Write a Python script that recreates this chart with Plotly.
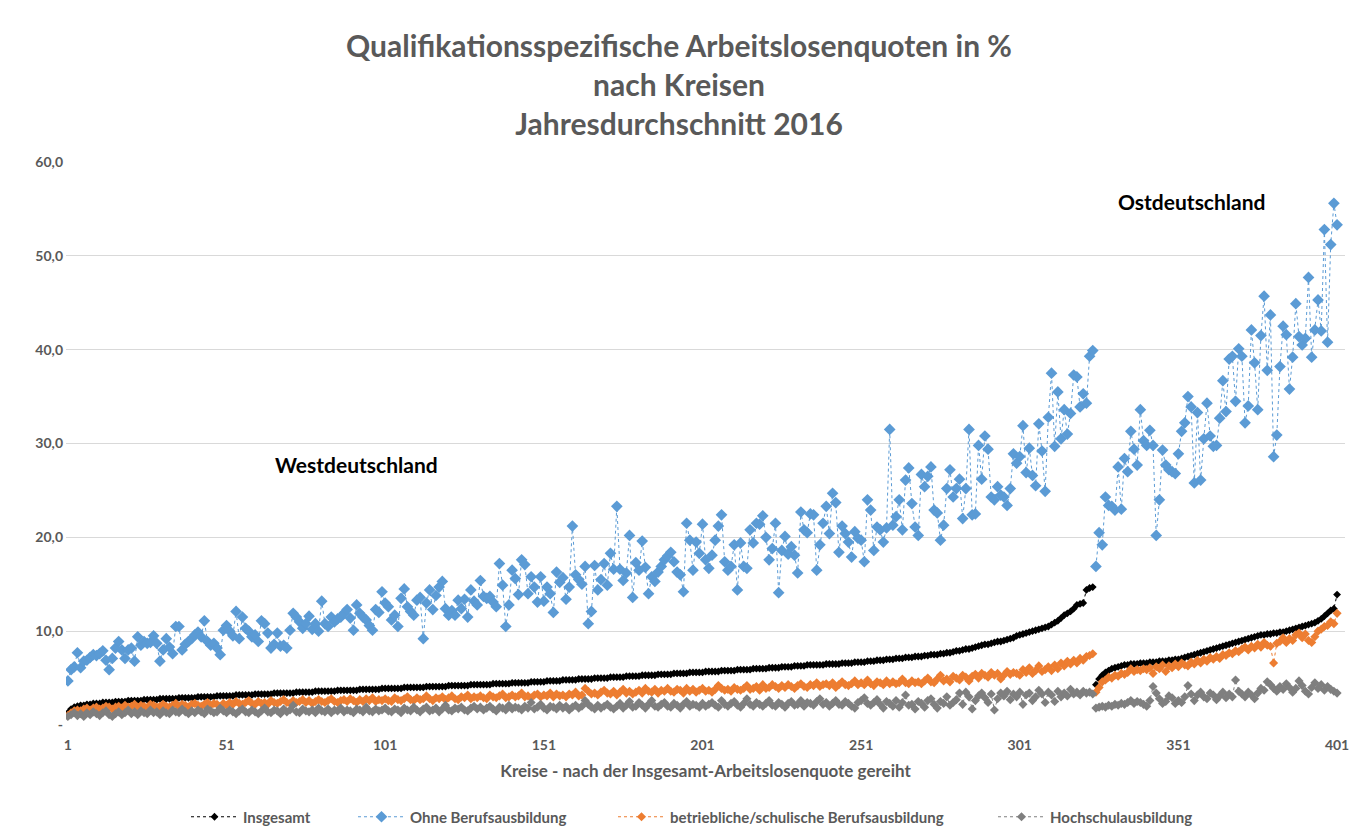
import plotly.graph_objects as go

# ---------------- data ----------------
kreis_rang = list(range(1, 402))          # Kreise 1..401 (West 1..324, Ost 325..401)
n_west = 324

insgesamt = [
    1.3, 1.7, 1.9, 2.0, 2.1, 2.1, 2.2, 2.2, 2.3, 2.3,
    2.3, 2.4, 2.4, 2.4, 2.4, 2.5, 2.5, 2.5, 2.5, 2.6,
    2.6, 2.6, 2.6, 2.6, 2.7, 2.7, 2.7, 2.7, 2.7, 2.8,
    2.8, 2.8, 2.8, 2.8, 2.8, 2.9, 2.9, 2.9, 2.9, 2.9,
    2.9, 3.0, 3.0, 3.0, 3.0, 3.0, 3.0, 3.1, 3.1, 3.1,
    3.1, 3.1, 3.1, 3.2, 3.2, 3.2, 3.2, 3.2, 3.2, 3.3,
    3.3, 3.3, 3.3, 3.3, 3.3, 3.4, 3.4, 3.4, 3.4, 3.4,
    3.4, 3.4, 3.5, 3.5, 3.5, 3.5, 3.5, 3.5, 3.6, 3.6,
    3.6, 3.6, 3.6, 3.6, 3.6, 3.7, 3.7, 3.7, 3.7, 3.7,
    3.7, 3.7, 3.8, 3.8, 3.8, 3.8, 3.8, 3.8, 3.8, 3.9,
    3.9, 3.9, 3.9, 3.9, 3.9, 3.9, 4.0, 4.0, 4.0, 4.0,
    4.0, 4.0, 4.0, 4.1, 4.1, 4.1, 4.1, 4.1, 4.1, 4.1,
    4.2, 4.2, 4.2, 4.2, 4.2, 4.2, 4.2, 4.3, 4.3, 4.3,
    4.3, 4.3, 4.3, 4.3, 4.4, 4.4, 4.4, 4.4, 4.4, 4.4,
    4.5, 4.5, 4.5, 4.5, 4.5, 4.5, 4.6, 4.6, 4.6, 4.6,
    4.6, 4.7, 4.7, 4.7, 4.7, 4.7, 4.8, 4.8, 4.8, 4.8,
    4.8, 4.9, 4.9, 4.9, 4.9, 4.9, 5.0, 5.0, 5.0, 5.0,
    5.0, 5.1, 5.1, 5.1, 5.1, 5.1, 5.2, 5.2, 5.2, 5.2,
    5.2, 5.3, 5.3, 5.3, 5.3, 5.3, 5.4, 5.4, 5.4, 5.4,
    5.4, 5.5, 5.5, 5.5, 5.5, 5.5, 5.6, 5.6, 5.6, 5.6,
    5.6, 5.7, 5.7, 5.7, 5.7, 5.7, 5.8, 5.8, 5.8, 5.8,
    5.8, 5.9, 5.9, 5.9, 5.9, 5.9, 6.0, 6.0, 6.0, 6.0,
    6.0, 6.1, 6.1, 6.1, 6.1, 6.2, 6.2, 6.2, 6.2, 6.3,
    6.3, 6.3, 6.3, 6.4, 6.4, 6.4, 6.4, 6.4, 6.4, 6.5,
    6.5, 6.5, 6.5, 6.5, 6.6, 6.6, 6.6, 6.6, 6.7, 6.7,
    6.7, 6.7, 6.8, 6.8, 6.8, 6.9, 6.9, 6.9, 7.0, 7.0,
    7.0, 7.1, 7.1, 7.1, 7.2, 7.2, 7.2, 7.3, 7.3, 7.3,
    7.4, 7.4, 7.5, 7.5, 7.5, 7.6, 7.6, 7.7, 7.7, 7.8,
    7.9, 7.9, 8.0, 8.1, 8.1, 8.2, 8.3, 8.4, 8.5, 8.6,
    8.6, 8.7, 8.8, 8.9, 8.9, 9.0, 9.1, 9.2, 9.3, 9.5,
    9.6, 9.7, 9.8, 9.9, 10.0, 10.1, 10.2, 10.3, 10.4, 10.5,
    10.7, 10.9, 11.1, 11.4, 11.7, 11.9, 12.1, 12.4, 12.8, 12.9,
    13.0, 14.4, 14.6, 14.7,
    # Ost
    4.3, 4.9, 5.3, 5.6, 5.8, 6.0, 6.1, 6.2, 6.3, 6.4,
    6.4, 6.5, 6.5, 6.5, 6.6, 6.6, 6.6, 6.7, 6.7, 6.7,
    6.8, 6.8, 6.8, 6.9, 6.9, 7.0, 7.0, 7.1, 7.2, 7.3,
    7.4, 7.5, 7.6, 7.7, 7.8, 7.9, 8.0, 8.1, 8.2, 8.3,
    8.4, 8.5, 8.6, 8.7, 8.8, 8.9, 9.0, 9.1, 9.2, 9.3,
    9.4, 9.5, 9.6, 9.6, 9.7, 9.7, 9.8, 9.8, 9.9, 9.9,
    10.0, 10.1, 10.2, 10.3, 10.4, 10.5, 10.6, 10.7, 10.8, 10.9,
    11.1, 11.3, 11.6, 11.9, 12.2, 12.4, 13.9,
]

ohne_berufsausbildung = [
    4.7, 5.9, 6.2, 7.7, 6.1, 6.8, 6.9, 7.2, 7.5, 7.4,
    7.6, 7.9, 6.9, 5.9, 7.1, 8.2, 8.9, 8.0, 7.1, 8.0,
    8.2, 6.8, 9.4, 8.5, 8.9, 8.7, 8.8, 9.5, 8.7, 6.8,
    8.0, 9.2, 8.3, 7.6, 10.5, 10.5, 8.0, 8.6, 8.9, 9.2,
    9.6, 9.9, 9.4, 11.1, 8.9, 8.5, 8.7, 8.2, 7.5, 10.1,
    10.6, 10.0, 9.5, 12.1, 9.2, 11.5, 10.3, 10.0, 9.4, 9.6,
    8.9, 11.1, 10.8, 9.8, 8.2, 8.6, 9.8, 8.4, 8.5, 8.2,
    10.1, 11.9, 11.5, 11.0, 10.3, 10.8, 11.6, 10.2, 10.8, 10.0,
    13.2, 10.8, 10.5, 11.5, 11.0, 11.3, 11.5, 11.9, 12.3, 11.4,
    10.1, 12.8, 11.9, 11.5, 11.2, 10.6, 10.1, 12.3, 12.0, 14.2,
    13.0, 12.6, 11.2, 11.7, 10.5, 13.5, 14.5, 12.6, 12.1, 11.7,
    13.3, 13.6, 9.2, 13.0, 14.4, 12.3, 13.8, 14.7, 15.3, 12.4,
    11.7, 12.2, 11.7, 13.3, 12.4, 13.4, 11.5, 14.4, 13.2, 12.8,
    15.4, 13.7, 13.5, 13.7, 13.1, 12.6, 17.2, 14.9, 10.5, 12.8,
    16.5, 15.6, 13.9, 17.6, 17.1, 14.0, 15.8, 14.7, 13.1, 15.8,
    13.2, 14.7, 14.0, 12.0, 16.3, 15.2, 15.7, 13.4, 14.7, 21.2,
    16.0, 15.5, 15.0, 16.9, 10.8, 12.1, 17.0, 14.4, 15.5, 17.2,
    14.9, 18.3, 16.6, 23.3, 16.6, 15.4, 16.2, 20.2, 13.6, 17.3,
    16.5, 19.6, 16.8, 14.0, 15.8, 15.3, 16.3, 16.9, 17.6, 18.0,
    18.4, 17.4, 16.3, 16.0, 14.2, 21.5, 19.7, 16.5, 19.5, 18.3,
    21.4, 17.6, 16.7, 18.1, 19.7, 21.2, 22.4, 17.4, 16.5, 16.9,
    19.2, 14.4, 19.4, 16.9, 16.7, 20.8, 19.4, 21.5, 21.4, 22.3,
    20.0, 17.6, 18.8, 21.5, 14.1, 18.6, 20.1, 18.2, 19.0, 18.1,
    16.2, 22.7, 20.8, 20.5, 22.5, 22.4, 16.5, 19.2, 21.5, 23.3,
    20.4, 24.7, 23.7, 18.4, 21.2, 20.4, 19.5, 17.9, 20.6, 19.9,
    19.7, 17.4, 24.0, 22.9, 18.6, 21.1, 20.8, 19.5, 21.0, 31.5,
    21.3, 22.2, 24.0, 20.8, 26.1, 27.4, 23.6, 21.1, 20.2, 26.7,
    25.4, 26.5, 27.5, 22.9, 22.6, 19.7, 21.3, 25.2, 27.2, 24.3,
    25.2, 26.2, 22.0, 25.2, 31.5, 22.4, 22.5, 29.8, 26.2, 30.8,
    29.4, 24.3, 24.0, 25.4, 24.5, 24.3, 23.4, 25.2, 28.9, 27.9,
    28.6, 31.9, 26.9, 29.5, 26.6, 25.5, 32.1, 29.2, 24.9, 32.8,
    37.5, 29.7, 35.5, 30.5, 33.6, 31.0, 33.2, 37.3, 37.1, 33.9,
    35.3, 34.3, 39.3, 39.9,
    # Ost
    16.9, 20.5, 19.2, 24.3, 23.4, 23.3, 22.9, 27.5, 23.0, 28.4,
    27.0, 31.3, 29.4, 27.7, 33.6, 30.3, 29.8, 31.4, 29.8, 20.2,
    24.0, 29.3, 27.7, 27.2, 27.0, 26.8, 28.9, 31.3, 32.2, 35.0,
    33.9, 25.8, 33.3, 26.1, 30.5, 34.3, 30.8, 29.7, 29.8, 32.7,
    36.7, 33.4, 39.0, 39.3, 34.5, 40.1, 39.3, 32.2, 34.0, 42.1,
    38.6, 33.6, 41.5, 45.7, 37.8, 43.7, 28.6, 30.9, 38.2, 42.5,
    41.6, 35.8, 39.2, 44.9, 41.4, 40.5, 41.2, 47.7, 39.2, 42.1,
    45.3, 42.0, 52.8, 40.8, 51.2, 55.6, 53.3,
]

betriebliche_schulische = [
    1.0, 1.3, 1.5, 1.6, 1.5, 1.7, 1.8, 1.6, 1.8, 1.9,
    1.7, 1.8, 2.0, 1.9, 1.7, 1.9, 2.0, 1.8, 2.1, 1.9,
    2.0, 2.2, 1.9, 2.1, 2.0, 1.8, 2.2, 2.1, 1.9, 2.0,
    2.2, 2.0, 1.9, 2.1, 2.3, 2.0, 2.2, 2.1, 1.9, 2.2,
    2.3, 2.1, 2.0, 2.2, 2.4, 2.1, 2.3, 2.2, 2.0, 2.3,
    2.1, 2.4, 2.2, 2.5, 2.3, 2.2, 2.4, 2.6, 2.3, 2.2,
    2.5, 2.3, 2.4, 2.2, 2.6, 2.4, 2.3, 2.5, 2.7, 2.4,
    2.3, 2.6, 2.4, 2.5, 2.7, 2.4, 2.6, 2.3, 2.5, 2.7,
    2.5, 2.4, 2.6, 2.8, 2.5, 2.4, 2.6, 2.7, 2.5, 2.8,
    2.6, 2.4, 2.7, 2.5, 2.8, 2.6, 2.9, 2.5, 2.7, 2.6,
    2.8, 2.6, 2.5, 2.9, 2.7, 2.6, 2.8, 3.0, 2.7, 2.6,
    2.9, 2.7, 2.8, 3.1, 2.8, 2.6, 2.9, 2.8, 3.0, 2.7,
    2.9, 3.1, 2.8, 2.7, 3.0, 2.9, 3.2, 2.8, 3.0, 2.9,
    3.1, 2.9, 2.8, 3.2, 3.0, 2.9, 3.1, 3.3, 2.9, 3.0,
    3.2, 3.0, 3.1, 3.4, 3.0, 3.1, 2.9, 3.2, 3.3, 3.0,
    3.2, 3.1, 3.4, 3.0, 3.3, 3.1, 3.2, 3.0, 3.3, 3.2,
    3.5, 3.1, 3.2, 3.9, 3.6, 3.3, 3.4, 3.2, 3.5, 3.7,
    3.4, 3.3, 3.6, 3.2, 3.5, 3.8, 3.4, 3.6, 3.3, 3.5,
    3.7, 3.4, 3.9, 3.6, 3.5, 3.8, 3.4, 3.7, 3.6, 3.9,
    3.6, 3.5, 3.8, 3.7, 3.4, 3.9, 3.6, 3.8, 3.5, 3.7,
    3.9, 3.6, 3.7, 3.5, 3.8, 4.2, 3.9, 3.7, 3.8, 3.6,
    4.0, 3.8, 3.7, 3.9, 4.2, 3.8, 3.9, 4.1, 3.7, 4.3,
    3.9, 4.0, 4.3, 4.1, 3.9, 4.2, 4.0, 4.3, 4.1, 3.9,
    4.2, 4.4, 4.1, 4.0, 4.3, 4.2, 4.5, 4.1, 4.3, 4.4,
    4.2, 4.5, 4.0, 4.3, 4.6, 4.3, 4.2, 4.4, 4.7, 4.3,
    4.5, 4.3, 4.8, 4.4, 4.2, 4.6, 4.5, 4.3, 4.7, 4.4,
    4.6, 4.4, 4.5, 4.9, 4.5, 4.4, 4.7, 4.5, 4.6, 4.4,
    4.7, 5.0, 4.6, 4.5, 4.9, 5.3, 4.7, 4.9, 4.6, 5.2,
    5.0, 4.8, 5.3, 5.1, 4.7, 5.2, 5.4, 5.0, 5.5, 5.3,
    5.1, 5.6, 5.3, 5.5, 4.9, 5.3, 5.7, 5.4, 5.6, 5.5,
    5.3, 5.9, 5.6, 6.1, 5.5, 5.8, 6.3, 5.7, 5.9, 6.2,
    5.8, 6.4, 6.0, 6.6, 6.3, 6.8, 6.5, 6.9, 6.6, 7.1,
    6.9, 7.3, 7.4, 7.6,
    # Ost
    3.5, 4.0, 4.6, 4.8, 5.1, 5.0, 5.3, 5.2, 5.5, 5.4,
    5.6, 6.0, 5.7, 5.9, 5.8, 6.0, 5.9, 6.1, 5.5, 6.2,
    6.0, 6.4, 5.7, 6.3, 6.1, 6.5, 6.2, 6.6, 6.4, 6.3,
    6.7, 6.5, 6.9, 6.6, 7.0, 6.8, 7.2, 7.0, 7.3, 7.1,
    7.5, 7.4, 7.7, 7.6, 7.9, 7.8, 8.1, 8.3, 8.0, 8.4,
    8.2, 8.6, 8.3, 8.8, 8.5, 8.4, 6.6, 8.7, 8.9, 9.3,
    8.8, 9.2, 9.0, 9.6, 9.8, 9.3, 9.7, 9.0, 8.8, 9.4,
    10.0, 10.2, 10.5, 10.6, 11.0, 10.8, 11.9,
]

hochschulausbildung = [
    0.9, 1.1, 1.3, 1.0, 1.2, 0.9, 1.3, 1.1, 1.4, 1.2,
    1.0, 1.3, 1.5, 1.1, 0.9, 1.2, 1.4, 1.1, 1.3, 1.6,
    1.2, 1.4, 1.1, 1.5, 1.3, 1.2, 1.6, 1.3, 1.4, 1.1,
    1.5, 1.3, 1.2, 1.6, 1.4, 1.3, 1.7, 1.4, 1.2, 1.5,
    1.3, 1.6, 1.4, 1.2, 1.7, 1.5, 1.3, 1.4, 1.8, 1.5,
    1.3, 1.6, 1.4, 1.2, 1.5, 1.7, 1.4, 1.3, 1.6, 1.4,
    1.2, 1.5, 1.8, 1.4, 1.3, 1.6, 1.5, 1.2, 1.7, 1.4,
    1.6, 2.1, 1.4, 1.3, 1.7, 1.5, 1.4, 1.6, 1.3, 1.8,
    1.5, 1.4, 1.7, 1.3, 1.6, 1.5, 1.8, 1.4, 1.6, 1.5,
    1.3, 1.7, 1.6, 1.4, 1.9, 1.5, 1.4, 1.7, 1.5, 1.6,
    1.8, 1.5, 1.4, 1.7, 1.6, 1.3, 1.8, 1.6, 1.5, 1.9,
    1.6, 1.4, 1.7, 1.9, 1.5, 1.6, 1.8, 1.4, 1.7, 2.1,
    1.6, 1.5, 1.8, 1.7, 1.9, 1.6, 1.5, 1.8, 2.0, 1.7,
    1.9, 1.6, 1.8, 2.0, 1.7, 1.5, 1.9, 1.8, 1.6, 2.1,
    1.7, 1.9, 1.8, 1.6, 2.0, 1.8, 2.4, 1.7, 1.9, 2.2,
    1.8, 1.6, 2.0, 1.9, 1.7, 2.1, 1.8, 2.0, 1.6, 1.9,
    2.1, 1.8, 2.0, 2.6, 2.2, 1.9, 1.7, 2.1, 1.8, 2.0,
    2.2, 1.9, 1.7, 2.0, 2.3, 1.8, 2.1, 2.5, 1.9, 2.0,
    2.4, 2.1, 1.8, 2.2, 2.6, 2.0, 1.9, 2.2, 2.4, 2.0,
    1.9, 2.3, 2.1, 1.8, 2.2, 2.5, 2.0, 2.2, 2.1, 1.9,
    2.3, 2.0, 2.2, 2.4, 2.1, 1.9, 2.6, 2.2, 2.0, 2.3,
    2.5, 2.1, 1.9, 2.3, 2.8, 2.2, 2.0, 2.4, 2.2, 2.0,
    2.3, 2.6, 2.1, 2.0, 2.4, 2.2, 1.9, 2.3, 2.5, 2.1,
    2.2, 2.6, 2.0, 2.4, 2.3, 2.1, 2.5, 2.8, 2.2, 2.4,
    2.0, 2.3, 2.6, 2.2, 2.1, 2.5, 2.3, 2.0, 1.8, 2.4,
    2.6, 2.9, 2.3, 2.1, 2.4, 2.7, 2.2, 1.8, 2.5, 2.3,
    2.0, 2.6, 1.9, 2.4, 3.2, 2.1, 2.2, 1.7, 2.5, 2.3,
    1.9, 2.6, 2.8, 2.2, 1.8, 2.5, 2.3, 3.0, 2.1, 2.4,
    2.7, 3.4, 2.2, 3.5, 3.0, 1.7, 2.6, 3.1, 3.4, 2.9,
    2.4, 3.3, 1.6, 2.8, 3.4, 3.1, 3.6, 2.7, 3.3, 3.0,
    3.5, 2.2, 3.2, 3.4, 2.6, 3.0, 3.7, 3.3, 2.4, 3.5,
    3.2, 2.5, 3.6, 3.0, 3.4, 3.1, 3.8, 3.3, 3.5, 3.2,
    3.6, 3.4, 3.5, 3.3,
    # Ost
    1.8, 1.9, 2.0, 1.9, 2.1, 2.0, 2.2, 2.1, 2.3, 2.2,
    2.4, 2.6, 2.3, 2.5, 2.4, 2.2, 2.0, 2.6, 4.1, 3.4,
    2.8, 2.3, 2.5, 3.1, 2.9, 2.3, 2.6, 2.4, 3.0, 4.2,
    3.3, 2.6, 3.2, 3.5, 3.0, 2.8, 3.4, 3.2, 2.7, 3.1,
    3.5, 2.9, 3.3, 3.0, 4.8, 3.6, 3.3, 3.0, 3.5, 3.2,
    2.8, 3.4, 3.9, 3.7, 4.6, 4.3, 3.9, 3.6, 4.1, 3.8,
    4.4, 4.0, 3.5, 3.9, 4.7, 4.2, 3.6, 3.3, 4.0, 4.5,
    3.9, 4.3, 3.7, 4.1, 3.8, 3.6, 3.4,
]

serien = [
    ("Insgesamt", insgesamt, "#000000", 6),
    ("Ohne Berufsausbildung", ohne_berufsausbildung, "#5B9BD5", 9),
    ("betriebliche/schulische Berufsausbildung", betriebliche_schulische, "#ED7D31", 7),
    ("Hochschulausbildung", hochschulausbildung, "#7F7F7F", 7),
]

y_ticks = [0, 10, 20, 30, 40, 50, 60]
y_ticktext = ["-", "10,0", "20,0", "30,0", "40,0", "50,0", "60,0"]
x_ticks = [1, 51, 101, 151, 201, 251, 301, 351, 401]

FONT = "Lato"
GREY = "#595959"

# plot-area geometry (px)
L, R, T, B = 66, 13, 162, 112
W, H = 1358, 837
PW, PH = W - L - R, H - T - B

def px_x(p):
    return (p - L) / PW

def px_y(p):
    return (H - B - p) / PH

# x with a break between West and Ost
x_vals = kreis_rang[:n_west] + [None] + kreis_rang[n_west:]

legend_names = ["legend", "legend2", "legend3", "legend4"]
legend_x_px = [186, 353, 613, 993]

fig = go.Figure()
for (name, vals, col, msize), lg in zip(serien, legend_names):
    y_vals = vals[:n_west] + [None] + vals[n_west:]
    fig.add_trace(go.Scatter(
        x=x_vals, y=y_vals, name=name, mode="lines+markers",
        line=dict(color=col, width=1, dash="dot"),
        marker=dict(symbol="diamond", size=msize, color=col),
        connectgaps=False, legend=lg,
    ))

legend_font = dict(family=FONT, size=15, color=GREY, weight="bold")
legends = {}
for lg, xp in zip(legend_names, legend_x_px):
    legends[lg] = dict(
        orientation="h", x=px_x(xp), xanchor="left", y=px_y(817), yanchor="middle",
        font=legend_font, itemwidth=47, bgcolor="rgba(0,0,0,0)",
    )

fig.update_layout(
    width=W, height=H,
    paper_bgcolor="white", plot_bgcolor="white",
    margin=dict(l=L, r=R, t=T, b=B, autoexpand=False),
    font=dict(family=FONT, color=GREY),
    title=dict(
        text="<b>Qualifikationsspezifische Arbeitslosenquoten in %<br>nach Kreisen<br>Jahresdurchschnitt 2016</b>",
        x=0.5, xanchor="center", y=0.932, yanchor="middle",
        font=dict(family=FONT, size=30, color=GREY),
    ),
    showlegend=True,
    annotations=[
        dict(text="<b>Westdeutschland</b>", x=92, y=27.8, xref="x", yref="y",
             showarrow=False, font=dict(family=FONT, size=21, color="#000000")),
        dict(text="<b>Ostdeutschland</b>", x=355, y=55.8, xref="x", yref="y",
             showarrow=False, font=dict(family=FONT, size=21, color="#000000")),
    ],
    **legends,
)

fig.update_xaxes(
    range=[0.4, 403.5], tickmode="array", tickvals=x_ticks,
    showgrid=False, zeroline=False, showline=False, automargin=False,
    ticks="", ticklabelstandoff=10,
    tickfont=dict(family=FONT, size=14, color=GREY, weight="bold"),
    title=dict(text="<b>Kreise - nach der Insgesamt-Arbeitslosenquote gereiht</b>",
               font=dict(family=FONT, size=17, color=GREY), standoff=13),
)
fig.update_yaxes(
    range=[0, 60], tickmode="array", tickvals=y_ticks, ticktext=y_ticktext,
    showgrid=True, gridcolor="#D9D9D9", gridwidth=1, automargin=False,
    zeroline=False, showline=False, ticks="", ticklabelstandoff=2,
    tickfont=dict(family=FONT, size=14, color=GREY, weight="bold"),
)

fig.write_html(
    "out.html",
    config={"displayModeBar": False},
    post_script="document.body.style.margin='0';document.body.style.padding='0';",
)
